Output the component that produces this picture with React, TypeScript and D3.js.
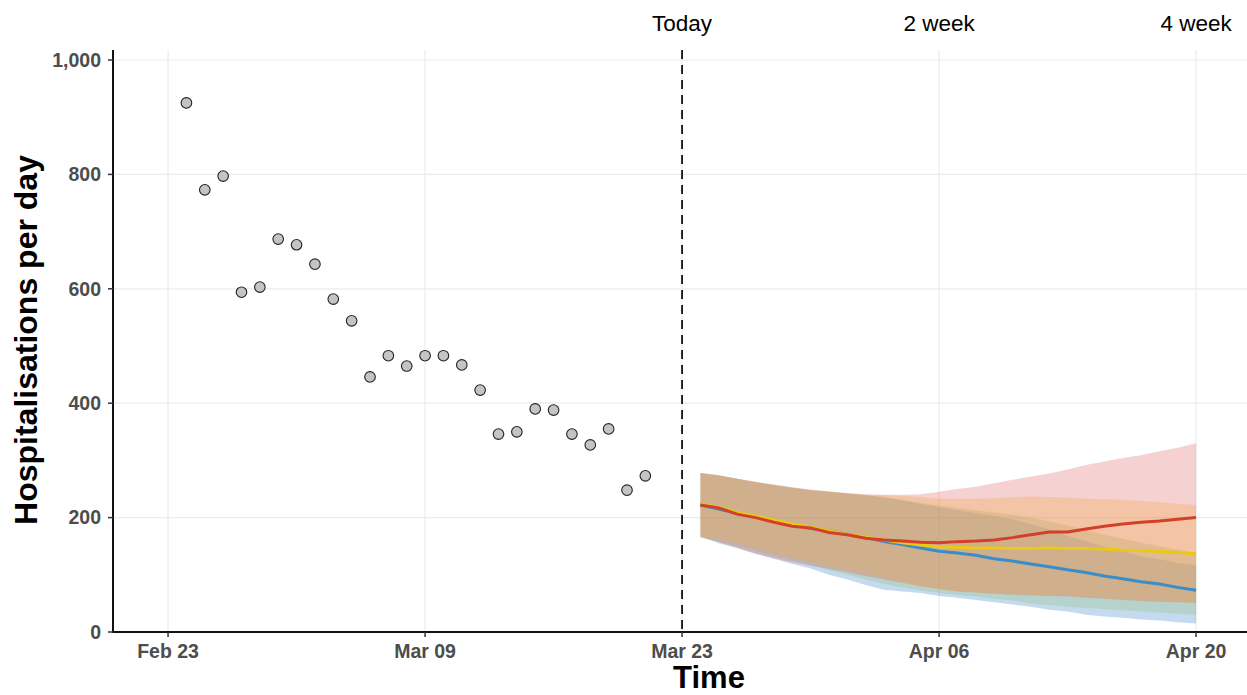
import React from "react";
import * as d3 from "d3";

// observed daily admissions (dots)
const observedStart = "2021-02-24";
const observed = [
  925, 773, 797, 594, 603, 687, 677, 643, 582, 544, 446, 483, 465, 483, 483,
  467, 423, 346, 350, 390, 388, 346, 327, 355, 248, 273,
];

// projections, one value per day from forecastStart
const forecastStart = "2021-03-24";
const blueMid = [222, 215, 207, 201, 195, 188, 181, 177, 171, 165, 158, 153, 147, 141, 138, 134, 128, 124, 119, 114, 109, 104, 98, 93, 88, 84, 78, 73];
const blueLow = [168, 155, 147, 137, 128, 119, 111, 100, 92, 82, 74, 71, 68, 63, 60, 56, 52, 48, 44, 39, 36, 30, 27, 25, 22, 20, 17, 15];
const blueHigh = [278, 274, 268, 262, 257, 252, 248, 245, 242, 239, 235, 230, 224, 218, 213, 208, 203, 197, 189, 179, 168, 159, 149, 141, 133, 127, 121, 117];
const greenLow = [165, 158, 150, 141, 133, 125, 117, 108, 100, 92, 84, 78, 73, 68, 65, 62, 58, 55, 50, 47, 44, 42, 40, 38, 36, 34, 32, 30];
const greenHigh = [277, 273, 268, 262, 257, 252, 248, 245, 242, 239, 236, 231, 226, 221, 217, 213, 209, 205, 200, 193, 186, 178, 170, 163, 156, 150, 144, 138];
const yellowMid = [224, 218, 209, 203, 196, 189, 183, 177, 171, 166, 161, 156, 152, 149, 148, 147, 147, 146, 146, 147, 146, 146, 145, 143, 142, 141, 139, 137];
const yellowLow = [167, 162, 155, 146, 138, 130, 123, 116, 109, 102, 95, 86, 80, 74, 71, 69, 67, 66, 65, 64, 63, 61, 59, 57, 55, 53, 52, 50];
const yellowHigh = [278, 274, 268, 262, 257, 252, 248, 245, 242, 240, 239, 238, 236, 233, 233, 233, 234, 236, 237, 236, 235, 233, 232, 231, 229, 227, 224, 222];
const redMid = [222, 217, 206, 200, 192, 185, 182, 174, 170, 164, 161, 159, 157, 156, 158, 159, 161, 165, 170, 175, 175, 180, 185, 189, 192, 194, 197, 200];
const redLow = [165, 157, 147, 137, 129, 122, 116, 110, 104, 98, 92, 86, 80, 75, 71, 69, 67, 65, 64, 63, 62, 60, 58, 56, 54, 53, 52, 51];
const redHigh = [278, 274, 268, 263, 258, 253, 249, 246, 243, 241, 240, 240, 241, 245, 250, 254, 260, 266, 272, 277, 284, 292, 298, 304, 309, 316, 322, 330];

const yTicks = [0, 200, 400, 600, 800, 1000];
const xTicks = ["2021-02-23", "2021-03-09", "2021-03-23", "2021-04-06", "2021-04-20"];
const markerDates = ["2021-03-23", "2021-04-06", "2021-04-20"];
const markerLabels = ["Today", "2 week", "4 week"];

const W = 1247;
const H = 695;
const left = 113;
const top = 50;
const bottom = 632;
const FONT = "'Liberation Sans', Arial, Helvetica, sans-serif";

const parse = d3.utcParse("%Y-%m-%d");
const fmtDate = d3.utcFormat("%b %d");
const fmtNum = d3.format(",");

const x = d3
  .scaleUtc()
  .domain([parse("2021-02-20")!, parse("2021-04-26")!])
  .range([left, 1306.2]);
const y = d3.scaleLinear().domain([0, 1017.5]).range([bottom, top]);

const day = (start: string, i: number) => d3.utcDay.offset(parse(start)!, i);

const bands = [
  { lo: blueLow, hi: blueHigh, fill: "#3d85c6" },
  { lo: greenLow, hi: greenHigh, fill: "#93c47d" },
  { lo: yellowLow, hi: yellowHigh, fill: "#f1c232" },
  { lo: redLow, hi: redHigh, fill: "#e06666" },
];
const lines = [
  { v: blueMid, stroke: "#3a8dc8" },
  { v: yellowMid, stroke: "#e8c914" },
  { v: redMid, stroke: "#d43f2a" },
];

const App = () => {
  const area = (lo: number[], hi: number[]) =>
    d3
      .area<number>()
      .x((_, i) => x(day(forecastStart, i)))
      .y0((_, i) => y(lo[i]))
      .y1((_, i) => y(hi[i]))(lo) || "";
  const line = d3
    .line<number>()
    .x((_, i) => x(day(forecastStart, i)))
    .y((d) => y(d));

  return (
    <svg
      width={W}
      height={H}
      style={{ position: "absolute", left: 0, top: 0, background: "#fff" }}
      fontFamily={FONT}
    >
      <defs>
        <clipPath id="panel">
          <rect x={left} y={top - 10} width={W - left} height={bottom - top + 10} />
        </clipPath>
      </defs>

      {/* grid */}
      <g stroke="#ebebeb" strokeWidth={1.2}>
        {yTicks.map((t) => (
          <line key={t} x1={left} x2={W} y1={y(t)} y2={y(t)} />
        ))}
        {xTicks.map((t) => (
          <line key={t} x1={x(parse(t)!)} x2={x(parse(t)!)} y1={top} y2={bottom} />
        ))}
      </g>

      <g clipPath="url(#panel)">
        {bands.map((b, k) => (
          <path key={k} d={area(b.lo, b.hi)} fill={b.fill} fillOpacity={0.3} stroke="none" />
        ))}
        {lines.map((l, k) => (
          <path key={k} d={line(l.v) || ""} fill="none" stroke={l.stroke} strokeWidth={3} />
        ))}
        {observed.map((v, i) => (
          <circle
            key={i}
            cx={x(day(observedStart, i))}
            cy={y(v)}
            r={5.3}
            fill="#c4c4c4"
            stroke="#222"
            strokeWidth={1.1}
          />
        ))}
      </g>

      {/* today marker */}
      <line
        x1={x(parse(markerDates[0])!)}
        x2={x(parse(markerDates[0])!)}
        y1={top}
        y2={bottom}
        stroke="#111"
        strokeWidth={1.8}
        strokeDasharray="9,6"
      />
      {markerDates.map((d, i) => (
        <text
          key={d}
          x={x(parse(d)!)}
          y={31}
          textAnchor="middle"
          fontSize={22.5}
          fill="#000"
        >
          {markerLabels[i]}
        </text>
      ))}

      {/* axes */}
      <line x1={left} x2={left} y1={top} y2={bottom + 1} stroke="#111" strokeWidth={2} />
      <line x1={left - 1} x2={W} y1={bottom} y2={bottom} stroke="#111" strokeWidth={2} />
      {yTicks.map((t) => (
        <g key={t}>
          <line x1={left - 5} x2={left} y1={y(t)} y2={y(t)} stroke="#333" strokeWidth={1.5} />
          <text
            x={left - 12}
            y={y(t)}
            dy="0.35em"
            textAnchor="end"
            fontSize={19.5}
            fontWeight="bold"
            fill="#4d4d4d"
          >
            {fmtNum(t)}
          </text>
        </g>
      ))}
      {xTicks.map((t) => (
        <g key={t}>
          <line
            x1={x(parse(t)!)}
            x2={x(parse(t)!)}
            y1={bottom}
            y2={bottom + 5}
            stroke="#333"
            strokeWidth={1.5}
          />
          <text
            x={x(parse(t)!)}
            y={658}
            textAnchor="middle"
            fontSize={19.5}
            fontWeight="bold"
            fill="#4d4d4d"
          >
            {fmtDate(parse(t)!)}
          </text>
        </g>
      ))}

      <text x={709} y={688} textAnchor="middle" fontSize={31} fontWeight="bold" fill="#000">
        Time
      </text>
      <text
        transform={`translate(37,340) rotate(-90)`}
        textAnchor="middle"
        fontSize={32}
        fontWeight="bold"
        fill="#000"
      >
        Hospitalisations per day
      </text>
    </svg>
  );
};

export default App;
